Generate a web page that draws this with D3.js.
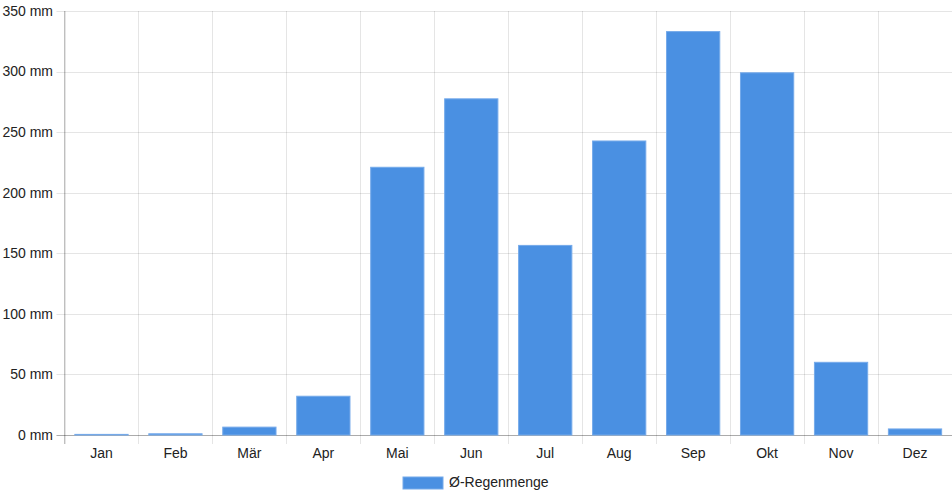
<!DOCTYPE html>
<html><head><meta charset="utf-8">
<script src="https://cdn.jsdelivr.net/npm/d3@7"></script>
<style>body{margin:0;background:#fff}svg{display:block;font-family:"Liberation Sans",Arial,sans-serif}</style>
</head><body><svg id="c" width="952" height="500"></svg>
<script>
const months = ["Jan","Feb","Mär","Apr","Mai","Jun","Jul","Aug","Sep","Okt","Nov","Dez"];
const rain = [0.5,1,6.5,32,221,277.5,156.5,242.7,333,299,60,5];
const yTicks = [0,50,100,150,200,250,300,350];
const seriesName = "Ø-Regenmenge";

const svg = d3.select("#c");
const m = {l:64.5, r:952, t:11, b:435};
const x = d3.scaleBand().domain(months).range([m.l, m.r]).paddingInner(0).paddingOuter(0);
const y = d3.scaleLinear().domain([0,350]).range([m.b, m.t]);
const grid = "rgba(0,0,0,0.1)";

// horizontal grid
svg.append("g").selectAll("line").data(yTicks).join("line")
  .attr("x1", m.l-8).attr("x2", m.r)
  .attr("y1", d=>Math.round(y(d))+0.5).attr("y2", d=>Math.round(y(d))+0.5)
  .attr("stroke", grid);
// vertical grid
const bounds = months.map(d=>x(d)).concat([m.r]);
svg.append("g").selectAll("line").data(bounds).join("line")
  .attr("x1", d=>Math.round(d)+0.5).attr("x2", d=>Math.round(d)+0.5)
  .attr("y1", m.t).attr("y2", m.b+9)
  .attr("stroke", grid);
// axis lines
svg.append("line").attr("x1", m.l).attr("x2", m.l).attr("y1", m.t).attr("y2", m.b+9).attr("stroke","rgba(0,0,0,0.25)");
svg.append("line").attr("x1", m.l-8).attr("x2", m.r).attr("y1", Math.round(y(0))+0.5).attr("y2", Math.round(y(0))+0.5).attr("stroke","rgba(0,0,0,0.25)");

// bars
const bw = x.bandwidth()*0.72;
svg.append("g").selectAll("rect").data(rain).join("rect")
  .attr("x", (d,i)=>x(months[i]) + (x.bandwidth()-bw)/2)
  .attr("width", bw)
  .attr("y", d=>y(d))
  .attr("height", d=>y(0)-y(d))
  .attr("fill", "#4a90e2")
  .attr("stroke", "#75aaea").attr("stroke-width", 1);

// y labels
svg.append("g").selectAll("text").data(yTicks).join("text")
  .attr("x", 53).attr("y", d=>y(d)).attr("dy","0.35em")
  .attr("text-anchor","end").attr("font-size",14).attr("fill","#222")
  .text(d=>d+" mm");
// x labels
svg.append("g").selectAll("text").data(months).join("text")
  .attr("x", d=>x(d)+x.bandwidth()/2).attr("y", 458)
  .attr("text-anchor","middle").attr("font-size",14).attr("fill","#222")
  .text(d=>d);

// legend
svg.append("rect").attr("x",403).attr("y",477).attr("width",40).attr("height",12).attr("fill","#4a90e2").attr("stroke","#75aaea");
svg.append("text").attr("x",449).attr("y",487).attr("font-size",14).attr("fill","#222").text(seriesName);
</script></body></html>
